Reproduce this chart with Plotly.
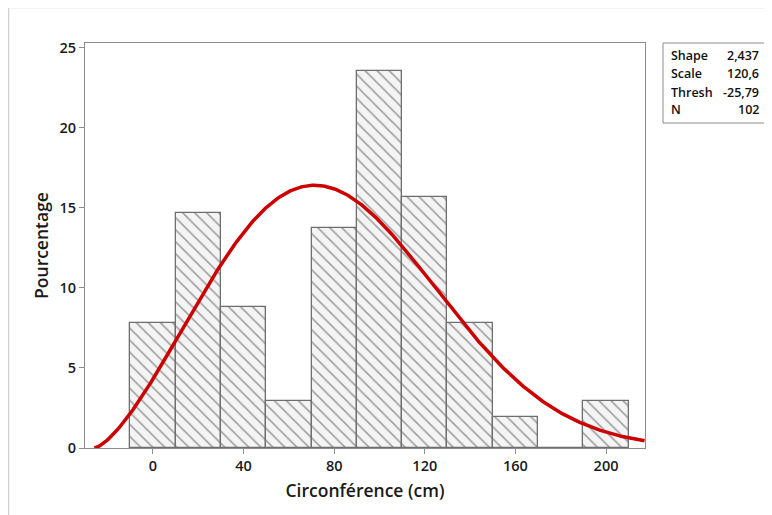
import numpy as np
import plotly.graph_objects as go

# Histogram data (percent of N=102), bins centered on these values, width 20
bin_centers = [0, 20, 40, 60, 80, 100, 120, 140, 160, 180, 200]
percentages = [7.84, 14.71, 8.82, 2.94, 13.73, 23.53, 15.69, 7.84, 1.96, 0.0, 2.94]
bin_width = 20

# Fitted 3-parameter Weibull (values shown in the chart's box)
shape_k = 2.437
scale_l = 120.6
thresh = -25.79
n_obs = 102
stat_labels = ["Shape", "Scale", "Thresh", "N"]
stat_values = ["2,437", "120,6", "-25,79", "102"]

x_ticks = [0, 40, 80, 120, 160, 200]
y_ticks = [0, 5, 10, 15, 20, 25]

# Fitted density curve scaled to the histogram's percent scale
xc = np.linspace(thresh, 217, 400)
z = np.clip((xc - thresh) / scale_l, 0, None)
pdf = (shape_k / scale_l) * z ** (shape_k - 1) * np.exp(-z ** shape_k)
yc = pdf * bin_width * 100

OFF = 8  # page body margin
W, H = 772 - OFF, 515 - OFF
L, R, T, B = 85 - OFF, 645 - OFF, 43 - OFF, 448 - OFF

def px(x):
    return (x - OFF - L) / (R - L)

def py(y):
    return (B - (y - OFF)) / (B - T)

FONT = "Open Sans"

fig = go.Figure()
fig.add_trace(go.Bar(
    x=bin_centers, y=percentages, width=bin_width,
    marker=dict(color="#f4f4f4", line=dict(color="#6e6e6e", width=1.3),
                pattern=dict(shape="\\", fgcolor="#474747", bgcolor="#f4f4f4",
                             size=8.5, solidity=0.18)),
    hoverinfo="skip", showlegend=False))
fig.add_trace(go.Scatter(
    x=xc, y=yc, mode="lines", line=dict(color="#cc0000", width=3.5),
    hoverinfo="skip", showlegend=False))

axis_common = dict(showgrid=False, zeroline=False, showline=True, linecolor="#8c8c8c",
                   linewidth=1, ticks="outside", ticklen=5, tickcolor="#8c8c8c",
                   mirror=True,
                   tickfont=dict(family=FONT, size=14.5, color="#1a1a1a", weight=600))

fig.update_layout(
    width=W, height=H,
    margin=dict(l=L, r=W - R, t=T, b=H - B),
    paper_bgcolor="white", plot_bgcolor="white",
    bargap=0,
    xaxis=dict(range=[-30, 217.2], tickvals=x_ticks,
               title=dict(text="Circonférence (cm)", standoff=10,
                          font=dict(family=FONT, size=17.5, color="#1a1a1a", weight=600)),
               **axis_common),
    yaxis=dict(range=[0, 25.3], tickvals=y_ticks,
               title=dict(text="Pourcentage", standoff=6,
                          font=dict(family=FONT, size=17.5, color="#1a1a1a", weight=600)),
               **axis_common),
)

# outer light-gray frame
fig.add_shape(type="line", xref="paper", yref="paper", x0=px(8.5), x1=px(8.5), y0=py(7.5), y1=py(530),
              line=dict(color="#d0d0d0", width=1.5))
fig.add_shape(type="line", xref="paper", yref="paper", x0=px(8.5), x1=px(790), y0=py(7.5), y1=py(7.5),
              line=dict(color="#d0d0d0", width=1.5))

# stats box
fig.add_shape(type="rect", xref="paper", yref="paper", x0=px(663), x1=px(767), y0=py(123), y1=py(43),
              line=dict(color="#8c8c8c", width=1), fillcolor="white")
row_y = [55, 73, 92, 110]
for lab, val, yy in zip(stat_labels, stat_values, row_y):
    fig.add_annotation(x=px(669), y=py(yy), xref="paper", yref="paper", text=lab,
                       showarrow=False, xanchor="left", yanchor="middle",
                       font=dict(family=FONT, size=12.5, color="#111111", weight=600))
    fig.add_annotation(x=px(761), y=py(yy), xref="paper", yref="paper", text=val,
                       showarrow=False, xanchor="right", yanchor="middle",
                       font=dict(family=FONT, size=12.5, color="#111111", weight=600))

fig.write_html("out.html")
